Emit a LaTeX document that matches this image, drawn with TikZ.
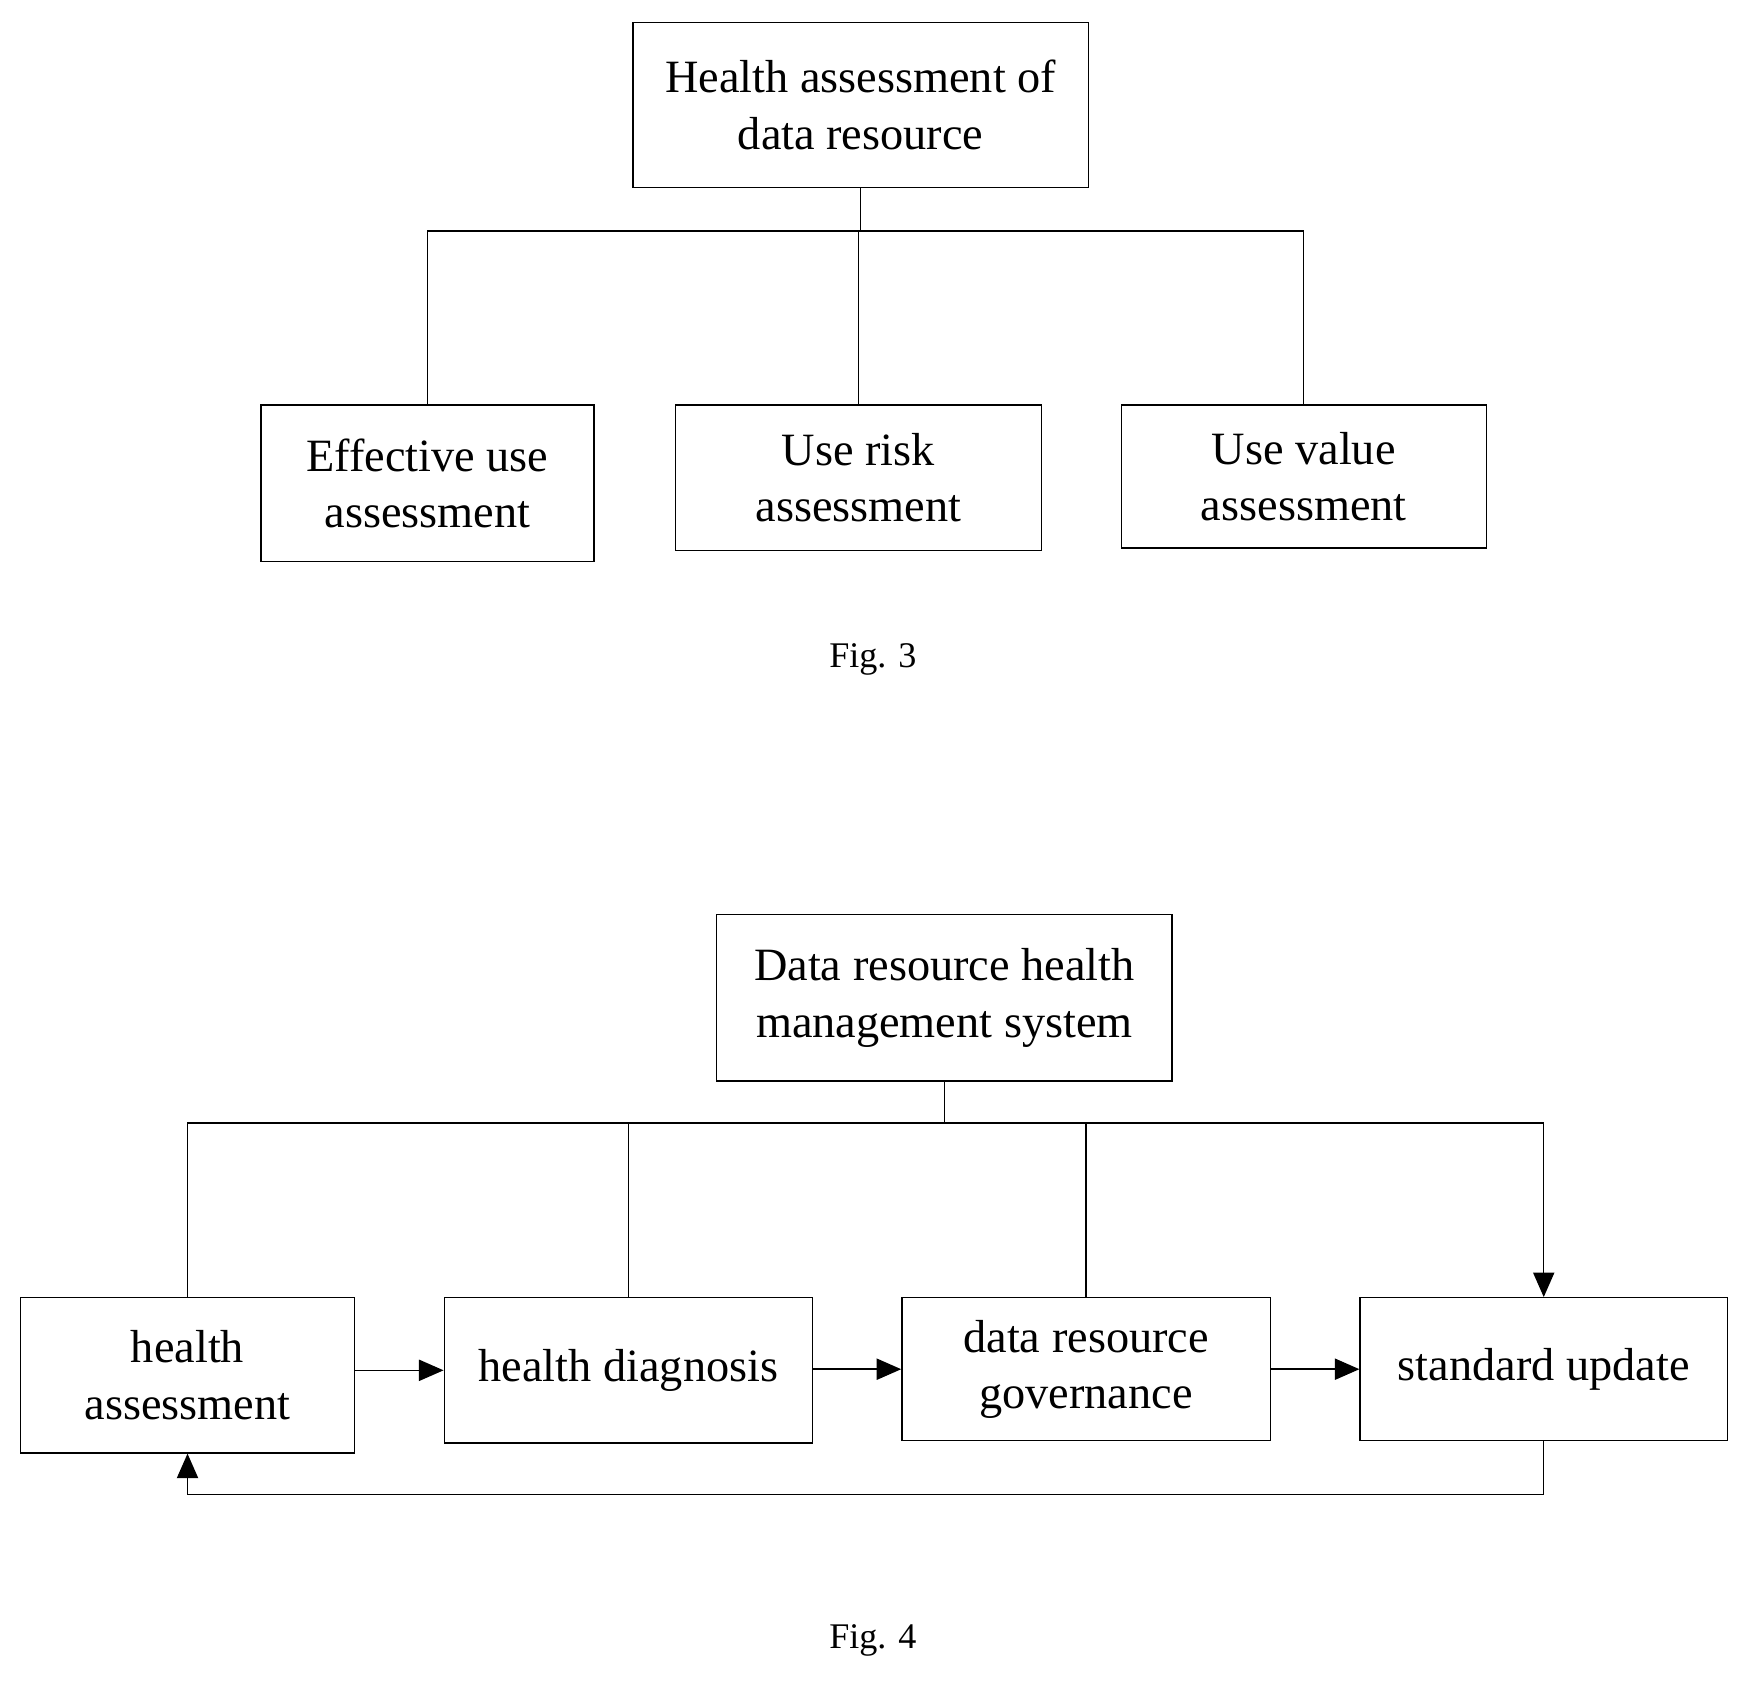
\documentclass[tikz,border=0pt]{standalone}
\usepackage{fontspec}
\setmainfont{Liberation Serif}
\usetikzlibrary{arrows.meta}
\begin{document}
\begin{tikzpicture}[x=0.05cm,y=-0.05cm,
 box/.style={draw,line width=1.8pt,align=center,font=\fontsize{59}{72}\selectfont,inner sep=0pt},
 ln/.style={line width=1.8pt},
 ar/.style={ln,-{Triangle[length=1.1cm,width=0.95cm]}},
 figcap/.style={font=\fontsize{46}{50}\selectfont}]
\useasboundingbox (0,0) rectangle (1566,1506);
% Fig 3
\node[box,minimum width=408*0.05cm,minimum height=148*0.05cm] (t3) at (771,94) {Health assessment of\\data resource};
\node[box,minimum width=298*0.05cm,minimum height=140*0.05cm] (a) at (383,433) {Effective use\\assessment};
\node[box,minimum width=328*0.05cm,minimum height=130*0.05cm] (b) at (769,428) {Use risk\\assessment};
\node[box,minimum width=327*0.05cm,minimum height=128*0.05cm] (c) at (1168,427) {Use value\\assessment};
\coordinate (j3) at (770,207);
\draw[ln] (t3.south) -- (t3.south|-j3);
\draw[ln] (a.north) -- (a.north|-j3) -- (c.north|-j3) -- (c.north);
\draw[ln] (b.north|-j3) -- (b.north);
\node[figcap] (f3) at (782,591) {Fig. 3};
% Fig 4
\node[box,minimum width=408*0.05cm,minimum height=149*0.05cm] (t4) at (846,894) {Data resource health\\management system};
\node[box,minimum width=299*0.05cm,minimum height=139*0.05cm,anchor=north] (h1) at (168,1162) {health\\assessment};
\node[box,minimum width=330*0.05cm,minimum height=130*0.05cm,anchor=north] (h2) at (563,1162) {health diagnosis};
\node[box,minimum width=330*0.05cm,minimum height=128*0.05cm,anchor=north] (h3) at (973,1162) {data resource\\governance};
\node[box,minimum width=329*0.05cm,minimum height=128*0.05cm,anchor=north] (h4) at (1383,1162) {standard update};
\coordinate (j4) at (846,1006);
\draw[ln] (t4.south) -- (j4);
\draw[ln] (h1.north) -- (h1.north|-j4) -- (h4.north|-j4);
\draw[ar] (h4.north|-j4) -- (h4.north);
\draw[ln] (h2.north|-j4) -- (h2.north);
\draw[ln] (h3.north|-j4) -- (h3.north);
\draw[ar] (h1.east|-h2.center) -- (h2.west);
\draw[ar] (h2.east|-h3.center) -- (h3.west);
\draw[ar] (h3.east|-h4.center) -- (h4.west);
\coordinate (fb) at (1383,1339);
\draw[ar] (h4.south) -- (fb) -- (fb-|h1.south) -- (h1.south);
\node[figcap] (f4) at (782,1470) {Fig. 4};
\end{tikzpicture}
\end{document}
